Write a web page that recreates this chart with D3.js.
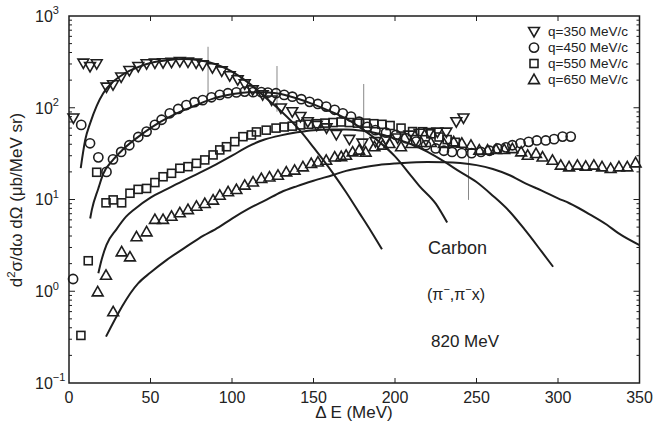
<!DOCTYPE html>
<html>
<head>
<meta charset="utf-8">
<script src="https://cdn.jsdelivr.net/npm/d3@7"></script>
<style>
body { margin: 0; background: #fff; }
text { font-family: "Liberation Sans", Arial, sans-serif; fill: #222; }
</style>
</head>
<body>
<script>
// measured points, [dE (MeV), cross section]
const q350 = [[2.7,77],[8.8,305],[12.9,280],[17,300],[23,167],[27,177],[32,215],[37,253],[42.5,280],[47.6,300],[52.7,305],[57.7,308],[62.9,312],[68,318],[73,313],[78,305],[82,292],[88,272],[93.7,251],[98.6,222],[103.5,201],[107.8,181],[112.7,156],[118.8,138],[124.3,121],[130,99],[137,90],[142,80],[146.5,70],[152,64],[158,60],[164,51],[172,45],[180,41],[188,42.5],[194.5,44.5],[201.6,46.5],[208.8,50],[215,52.5],[221,53.5],[226,54],[231.5,54],[237.6,70],[242,77]]
const q450 = [[2.5,1.36],[7.5,65],[12.9,41],[18,28.8],[23,20],[27,27.4],[32,33],[37,39],[42.5,48],[47.6,55],[52.7,65],[56.8,74],[61.8,87],[67,97],[72,107],[77,115],[82,121],[87.4,130],[92.5,138],[97.5,144],[102.7,147],[107.8,150],[113,148],[118,148],[122,146],[127,144],[132,138],[137,132],[142.5,124],[147.6,116],[152.7,110],[157.8,103],[163,95],[168,87],[173,80],[178,70.5],[183,62],[188,57],[194.5,53.5],[200.6,50.5],[206.8,46.5],[213,42.7],[219,39],[225,36],[230,34],[235,33],[241,32],[247,32],[252.7,33],[258,34],[263,36],[268,37],[272,39],[277,41],[282,42.5],[287,44],[292.5,44],[297.6,45.5],[302.8,48.5],[307.8,48.5]]
const q550 = [[7.3,0.33],[11.8,2.15],[17,19.8],[22.7,9.2],[27.1,9.9],[32.3,9.2],[37.4,11.7],[42.4,12.9],[47.6,13.2],[52.7,15.3],[57.7,17.7],[62.9,19.3],[68,21.9],[73,22.8],[78.2,24.8],[83.3,27],[88.4,30.6],[92.5,34.7],[96.6,37.6],[101.7,42.7],[106.7,48.4],[111.9,50.5],[115,54.5],[121,57],[127,60],[132,61.7],[137,63],[142,65],[147,66],[152,67],[157,68],[162,69],[167,70],[172,69],[177,68],[182,68],[187,67],[192,66],[197,64],[203.7,60],[210.8,55],[217,54.8],[222,52],[227,48],[232,45],[237,42]]
const q650 = [[17.6,0.99],[22.7,1.5],[27.1,0.6],[32.3,2.7],[37.4,2.38],[41.4,3.94],[47.6,4.46],[52.7,6.1],[57.7,6.1],[62.9,6.6],[68,7.2],[73,7.8],[78.2,8.5],[83.3,9.1],[88.4,9.9],[92.5,11.2],[97.6,12.2],[102.7,12.9],[107.8,14.4],[112.9,15.6],[118,17],[123,17.7],[128.2,18.5],[133.3,20.1],[138.4,21],[143.5,22.8],[148.6,24.8],[152.7,25.8],[157.8,26.9],[163,29.2],[167,29.5],[170,30.5],[174,33.2],[178,34.7],[182,33],[187.4,37.7],[192.5,39.3],[196.6,41],[203.7,37.7],[210,41],[216,42],[222,42],[230,41],[236,42.7],[241,41.3],[246.6,39.3],[251.7,34.7],[256.8,34.7],[262,35.3],[267,35.3],[272,36],[277.4,33.2],[281.4,30.5],[286.5,31.9],[290.5,29.2],[296.6,26.9],[301.7,23.8],[306.8,22.8],[311.9,23.8],[317,23.2],[322,23.8],[327,22.8],[332.3,21.9],[337.4,22.8],[342.5,22.8],[347.6,25.2]]

// calculated curves
const fit350 = [[7.2,22],[10,45],[13,68],[17,105],[21,144],[26,185],[31,218],[37,252],[43,280],[50,308],[60,330],[70,340],[80,330],[90,298],[100,248],[110,188],[121,127],[130,92],[141.5,57],[150,37],[162,19.3],[170,12],[178,7.2],[185,4.6],[192,2.87]]
const fit450 = [[13,6.2],[14,7.7],[18,13.2],[21,19],[27,27],[33,35],[45,52],[56,70],[66,87],[76,103],[88,125],[100,140],[110,148],[120,148],[130,141],[140,126],[150,109],[160,92],[170,76],[178,62],[190,43],[200,29.5],[210,18],[215,14],[225,9],[232,5.6]]
const fit550 = [[18,1.57],[20,2.2],[23,3.2],[29,4.7],[35,6.5],[40,7.8],[50,10.5],[60,13],[70,16],[80,19.5],[90,24],[100,30],[110,38],[120,45],[130,50],[140,54],[150,57],[160,58],[170,58],[180,56],[190,52],[200,46],[210,40],[220,33],[230,26],[240,20],[250,15.5],[260,11],[270,7.5],[280,4.6],[290,2.7],[297,1.85]]
const fit650 = [[22.7,0.32],[42.4,1.22],[50,1.6],[60,2.2],[70,2.9],[80,3.8],[92,5.0],[100,6.2],[110,7.9],[121,9.9],[130,12],[140,14],[150,16],[162,18.5],[170,20.5],[180,22.3],[190,23.8],[200,24.7],[210,25.3],[220,25.6],[230,25.5],[240,25],[250,23.7],[260,21.5],[270,18.5],[280,15],[290,12.5],[300,10.3],[307,9.1],[320,6.8],[330,5.3],[337,4.3],[350,3.19]]

// thin grey markers: [dE, low, high]
const guides = [[85.3,135,462],[127.6,90.6,285],[180.8,29.3,181.5],[245.1,9.9,36.4]]

const xTicks = [0,50,100,150,200,250,300,350]
const yExps = [-1,0,1,2,3]
const legendLabels = ["q=350 MeV/c","q=450 MeV/c","q=550 MeV/c","q=650 MeV/c"]
const shapes = ["down","circle","square","up"]

const W = 653, H = 425
const ink = "#1e1e1e"

const svg = d3.select("body").append("svg")
    .attr("width", W)
    .attr("height", H)

const x = d3.scaleLinear().domain([0,350]).range([69,639.5])
const y = d3.scaleLog().domain([0.1,1000]).range([383,16])

function marker(g, shape, cx, cy){
    if(shape=="circle"){
        g.append("circle").attr("cx",cx).attr("cy",cy).attr("r",4.6)
    } else if(shape=="square"){
        g.append("rect").attr("x",cx-4).attr("y",cy-4).attr("width",8).attr("height",8)
    } else if(shape=="down"){
        g.append("path").attr("d","M"+(cx-5.4)+","+(cy-4.2)+"L"+(cx+5.4)+","+(cy-4.2)+"L"+cx+","+(cy+5.2)+"Z")
    } else {
        g.append("path").attr("d","M"+(cx-5.4)+","+(cy+4.2)+"L"+(cx+5.4)+","+(cy+4.2)+"L"+cx+","+(cy-5.2)+"Z")
    }
}

// grey guides
svg.append("g").selectAll("line").data(guides).join("line")
    .attr("x1", d => x(d[0])).attr("x2", d => x(d[0]))
    .attr("y1", d => y(d[1])).attr("y2", d => y(d[2]))
    .attr("stroke","#888").attr("stroke-width",1)

// markers
let pts = svg.append("g").attr("fill","none").attr("stroke",ink).attr("stroke-width",1.6)
;[q350,q450,q550,q650].forEach((s,i) => {
    s.forEach(d => marker(pts, shapes[i], x(d[0]), y(d[1])))
})

// curves
let line = d3.line().x(d => x(d[0])).y(d => y(d[1])).curve(d3.curveMonotoneX)
svg.append("g").selectAll("path").data([fit350,fit450,fit550,fit650]).join("path")
    .attr("d", line)
    .attr("fill","none")
    .attr("stroke",ink)
    .attr("stroke-width",2)

// frame
svg.append("rect")
    .attr("x",x(0)).attr("y",y(1000))
    .attr("width",x(350)-x(0)).attr("height",y(0.1)-y(1000))
    .attr("fill","none").attr("stroke",ink).attr("stroke-width",1.5)

// x ticks, bottom and top, pointing in
let ax = svg.append("g")
ax.selectAll("line.b").data(xTicks.slice(1,-1)).join("line")
    .attr("x1",d=>x(d)).attr("x2",d=>x(d))
    .attr("y1",y(0.1)).attr("y2",y(0.1)-5)
    .attr("stroke",ink).attr("stroke-width",1)
ax.selectAll("line.t").data(xTicks.slice(1,-1)).join("line")
    .attr("x1",d=>x(d)).attr("x2",d=>x(d))
    .attr("y1",y(1000)).attr("y2",y(1000)+5)
    .attr("stroke",ink).attr("stroke-width",1)
svg.append("g").selectAll("text").data(xTicks).join("text")
    .attr("x",d=>x(d)).attr("y",403)
    .attr("text-anchor","middle")
    .style("font-size","16px")
    .text(d=>d)

// y ticks, left and right, majors and minors
let minors = []
yExps.slice(0,-1).forEach(e => { for(let k=2;k<10;k++) minors.push(k*Math.pow(10,e)) })
let yt = svg.append("g").attr("stroke",ink).attr("stroke-width",1)
;[[x(0),1],[x(350),-1]].forEach(side => {
    yt.selectAll(null).data(yExps.slice(1,-1)).join("line")
        .attr("x1",side[0]).attr("x2",side[0]+side[1]*6)
        .attr("y1",d=>y(Math.pow(10,d))).attr("y2",d=>y(Math.pow(10,d)))
    yt.selectAll(null).data(minors).join("line")
        .attr("x1",side[0]).attr("x2",side[0]+side[1]*3)
        .attr("y1",d=>y(d)).attr("y2",d=>y(d))
})
let yl = svg.append("g").selectAll("text").data(yExps).join("text")
    .attr("x",35).attr("y",d=>y(Math.pow(10,d))+5.8)
    .style("font-size","16px")
yl.append("tspan").text("10")
yl.append("tspan").attr("dy",-7.5).style("font-size","11px").text(d=>d<0?"\u2212"+(-d):d)

// axis titles
svg.append("text")
    .attr("x",354).attr("y",418)
    .attr("text-anchor","middle")
    .style("font-size","17px")
    .text("\u0394 E (MeV)")

let yTitle = svg.append("text")
    .attr("transform","translate(21.5,200) rotate(-90)")
    .attr("text-anchor","middle")
    .style("font-size","17px")
yTitle.append("tspan").text("d")
yTitle.append("tspan").attr("dy",-7).style("font-size","11.5px").text("2")
yTitle.append("tspan").attr("dy",7).text("\u03c3/d\u03c9 d\u03a9 (\u03bcb/MeV sr)")

// legend
let lg = svg.append("g")
legendLabels.forEach((t,i) => {
    let ly = 31.7 + i*15.9
    let mg = lg.append("g").attr("fill","none").attr("stroke",ink).attr("stroke-width",1.6)
    marker(mg, shapes[i], 534, ly)
    lg.append("text").attr("x",548).attr("y",ly+4.6)
        .style("font-size","13.5px")
        .text(t)
})

// annotations
svg.append("text").attr("x",428).attr("y",254).style("font-size","18px").text("Carbon")
let pp = svg.append("text").attr("x",427).attr("y",300).style("font-size","16px")
pp.append("tspan").text("(\u03c0")
pp.append("tspan").attr("dy",-7).style("font-size","11px").text("\u2212")
pp.append("tspan").attr("dy",7).text(",\u03c0")
pp.append("tspan").attr("dy",-7).style("font-size","11px").text("\u2212")
pp.append("tspan").attr("dy",7).text("x)")
svg.append("text").attr("x",431).attr("y",346.5).style("font-size","17px").text("820 MeV")
</script>
</body>
</html>
